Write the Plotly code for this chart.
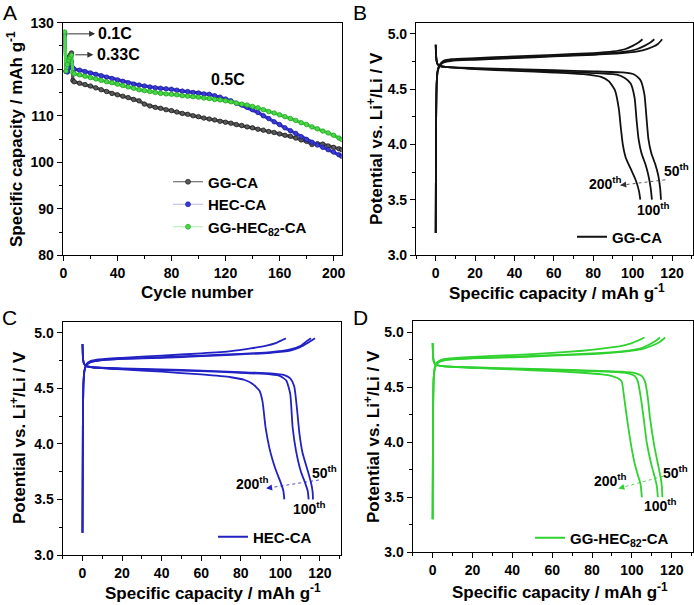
import plotly.graph_objects as go

W, H = 694, 605
def px(x): return x / W
def py(y): return 1 - y / H

FONT = "Liberation Sans, Arial, sans-serif"

# ---------------- Panel A: cycling data ----------------
cycles = [1, 2, 3, 4, 5, 6, 7,
          8, 12, 16, 20, 24, 28, 32, 36, 40, 44, 48, 52, 56, 60, 64, 68, 72, 76, 80,
          84, 88, 92, 96, 100, 104, 108, 112, 116, 120, 124, 128, 132, 136, 140,
          144, 148, 152, 156, 160, 164, 168, 172, 176, 180, 184, 188, 192, 196, 200, 204, 206]

cap_gg = [127.4, 119.6, 121.5, 122.5, 123.0, 123.5, 117.6,
          117.3, 117.0, 116.7, 116.4, 116.0, 115.6, 115.2, 114.8, 114.5, 114.2, 113.9, 113.5, 113.2, 112.5,
          112.1, 111.8, 111.6, 111.3, 111.1, 110.8, 110.5, 110.3, 110.0, 109.8, 109.5, 109.3, 109.1, 108.8,
          108.6, 108.4, 108.1, 107.9, 107.6, 107.4, 107.1, 106.9, 106.6, 106.4, 106.1, 105.8, 105.6, 105.2,
          104.8, 104.5, 103.8, 104.0, 103.9, 103.5, 103.2, 102.9, 102.7]

cap_hec = [127.7, 119.5, 119.4, 120.3, 121.2, 121.6, 120.3,
           120.0, 119.8, 119.5, 119.2, 118.9, 118.6, 118.3, 118.0, 117.7, 117.4, 117.1, 116.8, 116.6, 116.4,
           116.2, 116.0, 115.9, 115.8, 115.7, 115.5, 115.3, 115.2, 115.0, 114.9, 114.7, 114.6, 114.3, 114.0,
           113.6, 113.2, 112.7, 112.3, 111.8, 111.3, 110.7, 110.0, 109.4, 108.7, 108.1, 107.4, 106.8, 106.2,
           105.5, 104.9, 104.3, 103.7, 103.2, 102.7, 102.2, 101.6, 101.3]

cap_mix = [128.0, 119.6, 121.0, 122.0, 122.5, 123.0, 119.3,
           119.0, 118.8, 118.5, 118.2, 117.9, 117.6, 117.3, 117.1, 116.8, 116.5, 116.2, 115.9, 115.6, 115.4,
           115.2, 115.0, 114.8, 114.7, 114.6, 114.5, 114.3, 114.2, 114.1, 114.0, 113.8, 113.7, 113.5, 113.4,
           113.2, 113.0, 112.7, 112.5, 112.3, 112.0, 111.7, 111.3, 110.9, 110.6, 110.2, 109.8, 109.4, 109.0,
           108.5, 108.1, 107.6, 107.2, 106.7, 106.3, 105.8, 105.2, 104.9]

# ---------------- Panel B: GG-CA voltage profiles ----------------
b_ch50_q = [0, 0.2, 0.5, 1, 2, 4, 8, 20, 40, 60, 80, 95, 105, 110, 113, 115]
b_ch50_v = [3.2, 4.2, 4.55, 4.66, 4.71, 4.74, 4.755, 4.765, 4.78, 4.795, 4.81, 4.825, 4.85, 4.88, 4.91, 4.95]
b_ch100_q = [0, 0.2, 0.5, 1, 2, 4, 8, 20, 40, 60, 80, 95, 102, 106, 109, 111]
b_ch100_v = [3.2, 4.2, 4.55, 4.66, 4.71, 4.745, 4.76, 4.77, 4.785, 4.80, 4.815, 4.835, 4.86, 4.89, 4.92, 4.95]
b_ch200_q = [0, 0.2, 0.5, 1, 2, 4, 8, 20, 40, 60, 80, 90, 96, 100, 103, 105]
b_ch200_v = [3.2, 4.2, 4.55, 4.67, 4.72, 4.755, 4.77, 4.78, 4.795, 4.81, 4.825, 4.84, 4.86, 4.89, 4.92, 4.95]

b_dc50_q = [0, 0.3, 0.8, 2, 5, 20, 40, 60, 80, 95, 101, 104, 106, 107, 108, 109.5, 111.5, 113, 114, 114.4]
b_dc50_v = [4.9, 4.78, 4.73, 4.71, 4.70, 4.69, 4.68, 4.67, 4.66, 4.65, 4.63, 4.58, 4.45, 4.25, 4.05, 3.92, 3.82, 3.72, 3.60, 3.5]
b_dc100_q = [0, 0.3, 0.8, 2, 5, 20, 40, 60, 80, 92, 96, 99, 101, 102, 103, 104.5, 106.5, 108, 109.2, 109.8]
b_dc100_v = [4.9, 4.78, 4.73, 4.71, 4.70, 4.685, 4.675, 4.66, 4.645, 4.63, 4.60, 4.55, 4.42, 4.22, 4.05, 3.92, 3.82, 3.72, 3.60, 3.5]
b_dc200_q = [0, 0.3, 0.8, 2, 5, 20, 40, 60, 75, 84, 88, 91, 93, 94, 95, 96.5, 99, 101.5, 103.2, 103.9]
b_dc200_v = [4.9, 4.78, 4.73, 4.71, 4.70, 4.68, 4.665, 4.65, 4.635, 4.61, 4.57, 4.49, 4.32, 4.15, 4.00, 3.88, 3.78, 3.68, 3.58, 3.5]

# ---------------- Panel C: HEC-CA voltage profiles ----------------
c_ch50_q = [0, 0.2, 0.5, 1, 2, 4, 8, 20, 40, 60, 80, 95, 105, 110, 114, 117.5]
c_ch50_v = [3.2, 4.2, 4.55, 4.66, 4.71, 4.735, 4.75, 4.765, 4.775, 4.79, 4.805, 4.82, 4.84, 4.87, 4.91, 4.95]
c_ch100_q = [0, 0.2, 0.5, 1, 2, 4, 8, 20, 40, 60, 80, 95, 105, 110, 113, 115.5]
c_ch100_v = [3.2, 4.2, 4.55, 4.66, 4.71, 4.735, 4.75, 4.765, 4.78, 4.795, 4.81, 4.825, 4.85, 4.88, 4.92, 4.95]
c_ch200_q = [0, 0.2, 0.5, 1, 2, 4, 8, 20, 40, 60, 75, 85, 93, 98, 101, 102.8]
c_ch200_v = [3.2, 4.2, 4.55, 4.66, 4.72, 4.745, 4.76, 4.775, 4.795, 4.815, 4.835, 4.86, 4.885, 4.91, 4.935, 4.95]

c_dc50_q = [0, 0.3, 0.8, 2, 5, 20, 40, 60, 80, 95, 102, 105, 107, 108.5, 109.6, 111.2, 113.8, 115.5, 116.3, 116.5]
c_dc50_v = [4.9, 4.76, 4.72, 4.70, 4.69, 4.68, 4.67, 4.66, 4.645, 4.635, 4.62, 4.59, 4.52, 4.30, 4.10, 3.92, 3.76, 3.65, 3.57, 3.5]
c_dc100_q = [0, 0.3, 0.8, 2, 5, 20, 40, 60, 80, 95, 100, 103, 105, 106.2, 107.9, 110.4, 112.5, 113.8, 114.3]
c_dc100_v = [4.9, 4.76, 4.72, 4.70, 4.69, 4.675, 4.665, 4.655, 4.64, 4.625, 4.61, 4.57, 4.45, 4.15, 3.94, 3.75, 3.65, 3.58, 3.5]
c_dc200_q = [0, 0.3, 0.8, 2, 5, 20, 40, 60, 75, 82, 86, 89.4, 91, 92.5, 94.5, 96, 97.8, 100, 101.5, 102]
c_dc200_v = [4.9, 4.76, 4.72, 4.70, 4.69, 4.67, 4.65, 4.625, 4.60, 4.575, 4.54, 4.48, 4.38, 4.15, 3.96, 3.86, 3.76, 3.66, 3.58, 3.5]

# ---------------- Panel D: GG-HEC82-CA voltage profiles ----------------
d_ch50_q = [0, 0.2, 0.5, 1, 2, 4, 8, 20, 40, 60, 80, 95, 105, 110, 114, 116.7]
d_ch50_v = [3.3, 4.25, 4.57, 4.66, 4.71, 4.735, 4.75, 4.76, 4.77, 4.785, 4.80, 4.82, 4.845, 4.875, 4.91, 4.95]
d_ch100_q = [0, 0.2, 0.5, 1, 2, 4, 8, 20, 40, 60, 80, 95, 104, 108, 112, 114.1]
d_ch100_v = [3.3, 4.25, 4.57, 4.66, 4.71, 4.735, 4.75, 4.765, 4.775, 4.79, 4.805, 4.825, 4.85, 4.88, 4.92, 4.95]
d_ch200_q = [0, 0.2, 0.5, 1, 2, 4, 8, 20, 40, 60, 75, 85, 95, 100, 104, 106.3]
d_ch200_v = [3.3, 4.25, 4.57, 4.67, 4.72, 4.745, 4.76, 4.775, 4.79, 4.81, 4.83, 4.85, 4.875, 4.90, 4.93, 4.95]

d_dc50_q = [0, 0.3, 0.8, 2, 5, 20, 40, 60, 80, 95, 102, 105, 106.6, 108, 109, 111.3, 113.3, 114.5, 115, 115.3]
d_dc50_v = [4.9, 4.76, 4.72, 4.70, 4.69, 4.68, 4.67, 4.66, 4.65, 4.64, 4.625, 4.60, 4.55, 4.40, 4.23, 3.96, 3.78, 3.67, 3.6, 3.5]
d_dc100_q = [0, 0.3, 0.8, 2, 5, 20, 40, 60, 80, 93, 99, 101.5, 103, 104.5, 105.8, 107.5, 110, 111.5, 112.5, 113]
d_dc100_v = [4.9, 4.76, 4.72, 4.70, 4.69, 4.675, 4.665, 4.655, 4.645, 4.635, 4.62, 4.60, 4.55, 4.40, 4.23, 3.99, 3.78, 3.68, 3.6, 3.5]
d_dc200_q = [0, 0.3, 0.8, 2, 5, 20, 40, 60, 75, 85, 90, 93, 94.9, 96, 97.4, 100, 101.6, 103, 104.3, 105]
d_dc200_v = [4.9, 4.76, 4.72, 4.70, 4.69, 4.675, 4.66, 4.645, 4.63, 4.615, 4.60, 4.58, 4.55, 4.42, 4.23, 3.93, 3.79, 3.70, 3.62, 3.5]

names = ["GG-CA", "HEC-CA", "GG-HEC<sub>82</sub>-CA"]
BLACK = "#111111"
BLUE = "#2121c4"
GREEN = "#2fd22f"

fig = go.Figure()

# Panel A traces
a_series = [
    (cap_gg, names[0], "#5a5a5a", "#111111", "#555555"),
    (cap_hec, names[1], "#3a3ad8", "#16168e", "#b9b9e6"),
    (cap_mix, names[2], "#48d848", "#1f9a1f", "#a8eea8"),
]
for vals, nm, fill, edge, lcol in a_series:
    fig.add_trace(go.Scatter(
        x=cycles, y=vals, mode="lines+markers", name=nm,
        line=dict(color=fill, width=3.2),
        marker=dict(size=4.5, color=fill, line=dict(color=edge, width=0.7)),
        xaxis="x", yaxis="y", legend="legend", showlegend=False,
    ))
    fig.add_trace(go.Scatter(
        x=[None], y=[None], mode="lines+markers", name=nm,
        line=dict(color=lcol, width=1.2),
        marker=dict(size=5, color=fill, line=dict(color=edge, width=0.6)),
        xaxis="x", yaxis="y", legend="legend",
    ))

def add_profiles(xa, ya, color, leg, nm, curves):
    first = True
    for q, v in curves:
        fig.add_trace(go.Scatter(
            x=q, y=v, mode="lines", name=nm,
            line=dict(color=color, width=1.8, shape="spline", smoothing=0.5),
            xaxis=xa, yaxis=ya, legend=leg, showlegend=first,
        ))
        first = False

add_profiles("x2", "y2", BLACK, "legend2", names[0], [
    (b_ch50_q, b_ch50_v), (b_ch100_q, b_ch100_v), (b_ch200_q, b_ch200_v),
    (b_dc50_q, b_dc50_v), (b_dc100_q, b_dc100_v), (b_dc200_q, b_dc200_v)])
add_profiles("x3", "y3", BLUE, "legend3", names[1], [
    (c_ch50_q, c_ch50_v), (c_ch100_q, c_ch100_v), (c_ch200_q, c_ch200_v),
    (c_dc50_q, c_dc50_v), (c_dc100_q, c_dc100_v), (c_dc200_q, c_dc200_v)])
add_profiles("x4", "y4", GREEN, "legend4", names[2], [
    (d_ch50_q, d_ch50_v), (d_ch100_q, d_ch100_v), (d_ch200_q, d_ch200_v),
    (d_dc50_q, d_dc50_v), (d_dc100_q, d_dc100_v), (d_dc200_q, d_dc200_v)])

tickfont = dict(family=FONT, size=14, color="black", weight="bold")

def axis(domain, rng, dtick, mdtick, anchor, fmt=None):
    d = dict(domain=domain, range=rng, dtick=dtick, tick0=0, showgrid=False, zeroline=False,
             showline=True, linecolor="black", linewidth=1.2, mirror=True, automargin=False,
             ticks="outside", ticklen=5, tickwidth=1.2, tickcolor="black",
             minor=dict(dtick=mdtick, tick0=0, ticks="outside", ticklen=3, tickwidth=1,
                        tickcolor="black", showgrid=False),
             tickfont=tickfont, anchor=anchor)
    if fmt:
        d["tickformat"] = fmt
    return d

dA_x = [px(62.7), px(341.7)]; dA_y = [py(255.3), py(22.7)]
dB_x = [px(416), px(692.7)]; dB_y = [py(255), py(22.7)]
dC_x = [px(62.7), px(340.7)]; dC_y = [py(555), py(321.7)]
dD_x = [px(412.7), px(692.7)]; dD_y = [py(552.3), py(321)]

legfont = dict(family=FONT, size=15, color="black", weight="bold")
def legend(x, y):
    return dict(x=px(x), y=py(y), xanchor="left", yanchor="middle", bgcolor="rgba(0,0,0,0)",
                borderwidth=0, font=legfont, itemwidth=30, tracegroupgap=0)

fig.update_layout(
    template="none",
    width=W, height=H, margin=dict(l=0, r=0, t=0, b=0, pad=0, autoexpand=False), autosize=False,
    paper_bgcolor="white", plot_bgcolor="white", showlegend=True,
    font=dict(family=FONT, color="black", size=14),
    xaxis=axis(dA_x, [-0.5, 206], 40, 20, "y"),
    yaxis=axis(dA_y, [80, 130], 10, 5, "x"),
    xaxis2=axis(dB_x, [-10, 130.5], 20, 10, "y2"),
    yaxis2=axis(dB_y, [3.0, 5.1], 0.5, 0.25, "x2", ".1f"),
    xaxis3=axis(dC_x, [-10, 130.5], 20, 10, "y3"),
    yaxis3=axis(dC_y, [3.0, 5.1], 0.5, 0.25, "x3", ".1f"),
    xaxis4=axis(dD_x, [-10, 130.5], 20, 10, "y4"),
    yaxis4=axis(dD_y, [3.0, 5.1], 0.5, 0.25, "x4", ".1f"),
    legend=legend(168, 204.5),
    legend2=legend(572, 237),
    legend3=legend(213, 537),
    legend4=legend(530, 538),
)

ann = []
titlefont = dict(family=FONT, size=17, color="black", weight="bold")
def ptext(x, y, text, angle=0, font=titlefont):
    ann.append(dict(xref="paper", yref="paper", x=px(x), y=py(y), text=text, showarrow=False,
                    textangle=angle, font=font, xanchor="center", yanchor="middle"))

# axis titles
ptext(197, 292, "Cycle number")
ptext(15, 139, "Specific capacity / mAh g<sup>-1</sup>", -90)
xt = "Specific capacity / mAh g<sup>-1</sup>"
yt = "Potential vs. Li<sup>+</sup>/Li / V"
ptext(557, 292, xt)
ptext(375, 139, yt, -90)
ptext(213, 592, xt)
ptext(18, 438, yt, -90)
ptext(560, 591, xt)
ptext(372, 437, yt, -90)

# panel letters
letfont = dict(family=FONT, size=21, color="black")
ptext(9.5, 12.5, "A", font=letfont)
ptext(360.5, 12.5, "B", font=letfont)
ptext(9.5, 317.5, "C", font=letfont)
ptext(360.5, 317.5, "D", font=letfont)

# Panel A rate labels
rfont = dict(family=FONT, size=16, color="black", weight="bold")
def dtext(xr, yr, x, y, text, font):
    ann.append(dict(xref=xr, yref=yr, x=x, y=y, text=text, showarrow=False, font=font,
                    xanchor="center", yanchor="middle"))
def darrow(xr, yr, x0, y0, x1, y1, color, width=1.0):
    ann.append(dict(xref=xr, yref=yr, axref=xr, ayref=yr, x=x1, y=y1, ax=x0, ay=y0, text=" ",
                    font=dict(family=FONT, size=2, color=color),
                    showarrow=True, arrowhead=2, arrowsize=1.2, arrowwidth=width, arrowcolor=color,
                    standoff=0, startstandoff=0))

darrow("x", "y", 1.8, 127.6, 23.5, 127.6, "#333333")
dtext("x", "y", 38.2, 127.6, "0.1C", rfont)
darrow("x", "y", 7.4, 123.1, 22.2, 123.1, "#333333")
dtext("x", "y", 40.5, 123.1, "0.33C", rfont)
dtext("x", "y", 122, 117.7, "0.5C", rfont)

# cycle labels in B, C, D
cfont = dict(family=FONT, size=14, color="black", weight="bold")
shapes = []
def cyc_labels(xr, yr, color, p50, p200, p100, a0, a1):
    dtext(xr, yr, p50[0], p50[1], "50<sup>th</sup>", cfont)
    dtext(xr, yr, p200[0], p200[1], "200<sup>th</sup>", cfont)
    dtext(xr, yr, p100[0], p100[1], "100<sup>th</sup>", cfont)
    shapes.append(dict(type="line", xref=xr, yref=yr, x0=a0[0], y0=a0[1], x1=a1[0], y1=a1[1],
                       line=dict(color=color, width=0.8, dash="dot")))
    darrow(xr, yr, a1[0] + 3, a1[1] + (a0[1] - a1[1]) * 3 / (a0[0] - a1[0]), a1[0], a1[1], color, 1.0)

cyc_labels("x2", "y2", "#333333", (122.5, 3.77), (86, 3.65), (110.7, 3.42), (116.6, 3.68), (93.7, 3.63))
cyc_labels("x3", "y3", BLUE, (122.1, 3.75), (86, 3.645), (114.6, 3.42), (119.5, 3.675), (92.8, 3.60))
cyc_labels("x4", "y4", GREEN, (121.7, 3.73), (89.1, 3.66), (114.2, 3.43), (115.7, 3.69), (93.2, 3.58))

fig.update_layout(annotations=ann, shapes=shapes)
fig.write_html(
    "out.html",
    config={"responsive": False},
    post_script="document.body.style.margin='0';document.body.style.padding='0';",
)
